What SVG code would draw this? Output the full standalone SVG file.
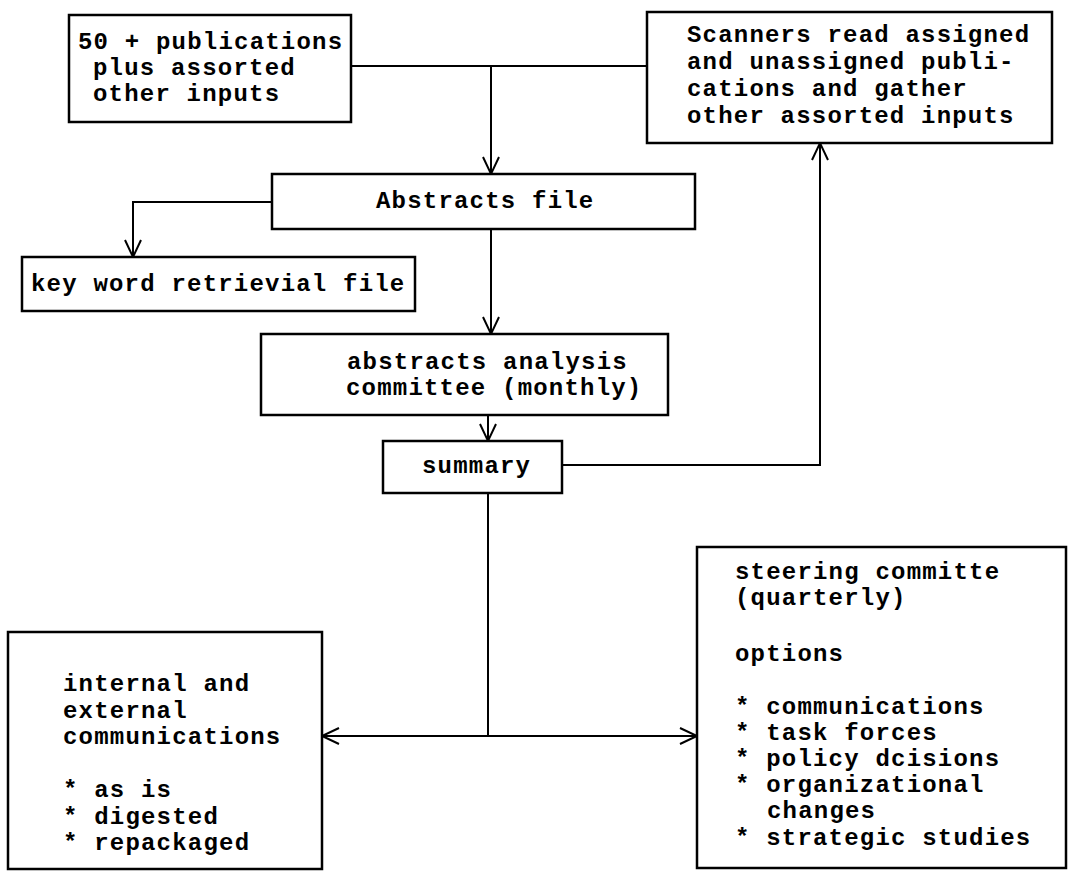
<svg xmlns="http://www.w3.org/2000/svg" width="1082" height="872" viewBox="0 0 1082 872">
  <style>
    .box { fill: #fff; stroke: #000; stroke-width: 2.5; }
    .lbl { font-family: "Liberation Mono", "DejaVu Sans Mono", monospace; font-size: 24px; font-weight: bold; letter-spacing: 1.2px; fill: #000; }
    .wire { fill: none; stroke: #000; stroke-width: 2; }
  </style>
  <defs>
    <marker id="vee" markerUnits="userSpaceOnUse" markerWidth="22" markerHeight="20" refX="19" refY="10" orient="auto">
      <path d="M2,2 L19,10 L2,18" fill="none" stroke="#000" stroke-width="2"/>
    </marker>
  </defs>
  <rect width="1082" height="872" fill="#fff"/>

  <!-- connectors -->
  <g id="connectors">
    <path class="wire" d="M351,66 H647"/>
    <path class="wire" d="M491,66 V174" marker-end="url(#vee)"/>
    <path class="wire" d="M272,202 H133 V257" marker-end="url(#vee)"/>
    <path class="wire" d="M491,229 V334" marker-end="url(#vee)"/>
    <path class="wire" d="M488,415 V441" marker-end="url(#vee)"/>
    <path class="wire" d="M562,465 H820 V143" marker-end="url(#vee)"/>
    <path class="wire" d="M488,493 V736"/>
    <path class="wire" d="M488,736 H322" marker-end="url(#vee)"/>
    <path class="wire" d="M488,736 H697" marker-end="url(#vee)"/>
  </g>

  <g id="publications">
    <rect class="box" x="69" y="15" width="282" height="107"/>
    <text class="lbl" x="78" y="49">50 + publications</text>
    <text class="lbl" x="93" y="75">plus assorted</text>
    <text class="lbl" x="93" y="101">other inputs</text>
  </g>

  <g id="scanners">
    <rect class="box" x="647" y="12" width="405" height="131"/>
    <text class="lbl" x="687" y="42">Scanners read assigned</text>
    <text class="lbl" x="687" y="69">and unassigned publi-</text>
    <text class="lbl" x="687" y="96">cations and gather</text>
    <text class="lbl" x="687" y="123">other assorted inputs</text>
  </g>

  <g id="abstracts-file">
    <rect class="box" x="272" y="174" width="423" height="55"/>
    <text class="lbl" x="376" y="208">Abstracts file</text>
  </g>

  <g id="keyword-file">
    <rect class="box" x="22" y="257" width="393" height="54"/>
    <text class="lbl" x="31" y="291">key word retrievial file</text>
  </g>

  <g id="analysis-committee">
    <rect class="box" x="261" y="334" width="407" height="81"/>
    <text class="lbl" x="347" y="369">abstracts analysis</text>
    <text class="lbl" x="346" y="395">committee (monthly)</text>
  </g>

  <g id="summary">
    <rect class="box" x="383" y="441" width="179" height="52"/>
    <text class="lbl" x="422" y="473">summary</text>
  </g>

  <g id="communications">
    <rect class="box" x="8" y="632" width="314" height="237"/>
    <text class="lbl" x="63" y="691">internal and</text>
    <text class="lbl" x="63" y="718">external</text>
    <text class="lbl" x="63" y="744">communications</text>
    <text class="lbl" x="63" y="797">* as is</text>
    <text class="lbl" x="63" y="824">* digested</text>
    <text class="lbl" x="63" y="850">* repackaged</text>
  </g>

  <g id="steering-committee">
    <rect class="box" x="697" y="547" width="369" height="321"/>
    <text class="lbl" x="735" y="579">steering committe</text>
    <text class="lbl" x="735" y="605">(quarterly)</text>
    <text class="lbl" x="735" y="661">options</text>
    <text class="lbl" x="735" y="714">* communications</text>
    <text class="lbl" x="735" y="740">* task forces</text>
    <text class="lbl" x="735" y="766">* policy dcisions</text>
    <text class="lbl" x="735" y="792">* organizational</text>
    <text class="lbl" x="767" y="818">changes</text>
    <text class="lbl" x="735" y="845">* strategic studies</text>
  </g>
</svg>
